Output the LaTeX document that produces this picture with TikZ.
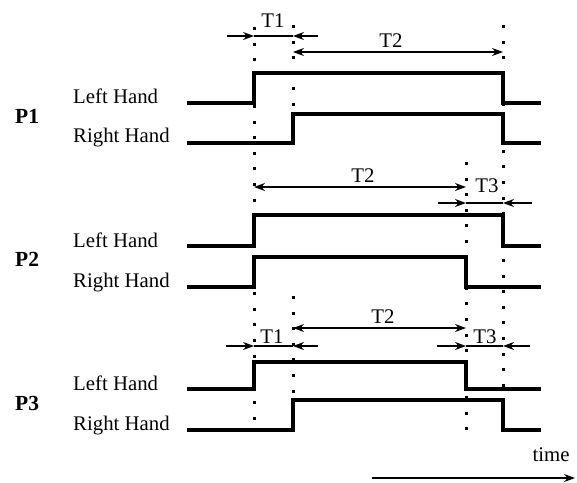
\documentclass[tikz,border=0pt]{standalone}
\usepackage{fontspec}
\setmainfont{Liberation Serif}
\usetikzlibrary{arrows.meta}
\begin{document}
\begin{tikzpicture}[x=1pt,y=-1pt,
 sig/.style={line width=3.2pt, line join=miter},
 guide/.style={line width=3pt, dash pattern=on 3pt off 12.6pt},
 dim/.style={line width=1.1pt},
 tip/.style={-{Stealth[length=11pt,width=8pt]}},
 dtip/.style={{Stealth[length=11pt,width=8pt]}-{Stealth[length=11pt,width=8pt]}},
 lbl/.style={font=\fontsize{20.8}{24}\selectfont, inner sep=0pt, anchor=base west},
 plbl/.style={font=\fontsize{21.5}{24}\selectfont\bfseries, inner sep=0pt, anchor=base west},
 tlbl/.style={font=\fontsize{20.8}{24}\selectfont, inner sep=0pt, anchor=base},
]
\useasboundingbox (0,0) rectangle (577,482);
% guide lines
\draw[guide] (254,27) -- (254,432);
\draw[guide] (293,25) -- (293,140);
\draw[guide] (293,296) -- (293,432);
\draw[guide] (466,162) -- (466,432);
\draw[guide] (503,25) -- (503,432);
% signals
\draw[sig] (187,103) -- (254,103) -- (254,73) -- (503,73) -- (503,103) -- (541,103);
\draw[sig] (187,143) -- (293,143) -- (293,114) -- (503,114) -- (503,143) -- (541,143);
\draw[sig] (187,246) -- (254,246) -- (254,215) -- (503,215) -- (503,246) -- (541,246);
\draw[sig] (187,287) -- (254,287) -- (254,257) -- (466,257) -- (466,287) -- (541,287);
\draw[sig] (187,389) -- (254,389) -- (254,362) -- (466,362) -- (466,389) -- (541,389);
\draw[sig] (187,430) -- (293,430) -- (293,400) -- (503,400) -- (503,430) -- (541,430);
% labels
\node[plbl] (p1) at (15,123) {P1};
\node[lbl] (p1l) at (73,103) {Left Hand};
\node[lbl] (p1r) at (73,142) {Right Hand};
\node[plbl] (p2) at (15,266) {P2};
\node[lbl] (p2l) at (73,247) {Left Hand};
\node[lbl] (p2r) at (73,287) {Right Hand};
\node[plbl] (p3) at (15,410) {P3};
\node[lbl] (p3l) at (73,390) {Left Hand};
\node[lbl] (p3r) at (73,430) {Right Hand};
% P1 dimensions
\draw[dim,tip] (227,36) -- (254,36);
\draw[dim,tip] (318,36) -- (293,36);
\draw[dim] (254,36) -- (293,36);
\node[tlbl] (t1a) at (273,27) {T1};
\draw[dim,dtip] (293,52) -- (503,52);
\node[tlbl] (t2a) at (391,47) {T2};
% P2 dimensions
\draw[dim,dtip] (254,187) -- (466,187);
\node[tlbl] (t2b) at (363,182) {T2};
\draw[dim,tip] (438,203) -- (466,203);
\draw[dim,tip] (532,203) -- (503,203);
\draw[dim] (466,203) -- (503,203);
\node[tlbl] (t3b) at (487,192) {T3};
% P3 dimensions
\draw[dim,dtip] (293,328) -- (466,328);
\node[tlbl] (t2c) at (383,323) {T2};
\draw[dim,tip] (226,346) -- (254,346);
\draw[dim,tip] (318,346) -- (293,346);
\draw[dim] (254,346) -- (293,346);
\node[tlbl] (t1c) at (272,343) {T1};
\draw[dim,tip] (437,346) -- (466,346);
\draw[dim,tip] (530,346) -- (503,346);
\draw[dim] (466,346) -- (503,346);
\node[tlbl] (t3c) at (485,343) {T3};
% time axis
\node[tlbl] (time) at (551,461) {time};
\coordinate (ts) at (372,478);
\coordinate (te) at (575,478);
\draw[dim,tip] (ts) -- (te);
\end{tikzpicture}
\end{document}
